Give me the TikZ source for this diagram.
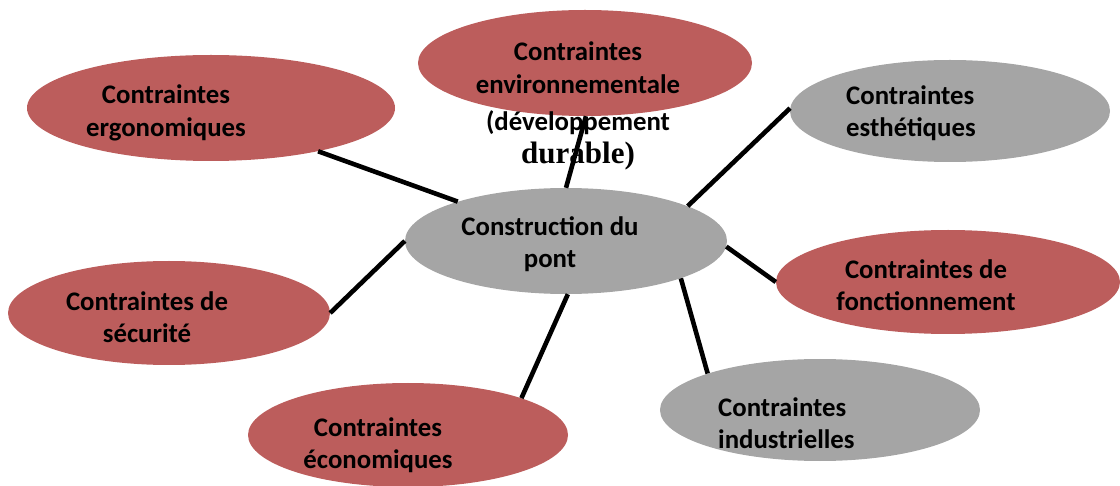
\documentclass[tikz,border=0pt]{standalone}
\usepackage{fontspec}
\setmainfont{Carlito}
\newfontfamily\serifbold{Liberation Serif}
\usetikzlibrary{shapes.geometric}
\definecolor{bubble-red}{RGB}{188,93,92}
\definecolor{bubble-grey}{RGB}{165,165,165}
\tikzset{
    bubble/.style = {ellipse, inner sep=0pt, draw=none},
    red-bubble/.style = {bubble, fill=bubble-red},
    grey-bubble/.style = {bubble, fill=bubble-grey},
    bubble-text/.style = {inner sep=0pt, text=black, font=\fontsize{26.8}{32.5}\selectfont\bfseries},
    link/.style = {line width=4.6pt, black},
}

\begin{document}
\begin{tikzpicture}[x=1pt, y=-1pt]
\useasboundingbox (0,0) rectangle (1120,486);
% ellipses
\node[grey-bubble, minimum width=322pt, minimum height=106pt] (centre) at (566,241) {};
\node[red-bubble, minimum width=368pt, minimum height=106pt] (ergo) at (211,108) {};
\node[red-bubble, minimum width=334pt, minimum height=106pt] (env) at (585,63) {};
\node[grey-bubble, minimum width=320pt, minimum height=102pt] (esth) at (950,111) {};
\node[red-bubble, minimum width=322pt, minimum height=104pt] (secu) at (169,313) {};
\node[red-bubble, minimum width=344pt, minimum height=104pt] (fonct) at (948,282) {};
\node[red-bubble, minimum width=320pt, minimum height=104pt] (eco) at (408,435) {};
\node[grey-bubble, minimum width=320pt, minimum height=102pt] (indus) at (820,410) {};
% labels
\node[bubble-text, align=center] (centre-txt) at (550,244) {Construction du\\pont};
\node[bubble-text, align=center] (ergo-txt) at (166,113) {Contraintes\\ergonomiques};
\node[bubble-text, align=center] (env-txt) at (578,106) {Contraintes\\environnementale\\[5pt](développement\\{\serifbold\fontsize{31}{34}\selectfont durable)}};
\node[bubble-text, align=left, anchor=west] (esth-txt) at (846,113) {Contraintes\\esthétiques};
\node[bubble-text, align=center] (secu-txt) at (147,317) {Contraintes de\\sécurité};
\node[bubble-text, align=center] (fonct-txt) at (926,285) {Contraintes de\\fonctionnement};
\node[bubble-text, align=center] (eco-txt) at (378,445) {Contraintes\\économiques};
\node[bubble-text, align=left, anchor=west] (indus-txt) at (718,423) {Contraintes\\industrielles};
% connectors
\draw[link] (ergo.-22.5) -- (centre.160);
\draw[link] (env.-89) -- (centre.90);
\draw[link] (esth.179) -- (centre.16);
\draw[link] (secu.0) -- (centre.180);
\draw[link] (fonct.180) -- (centre.-2);
\draw[link] (eco.18) -- (centre.-88);
\draw[link] (indus.162) -- (centre.-18);
\end{tikzpicture}
\end{document}
